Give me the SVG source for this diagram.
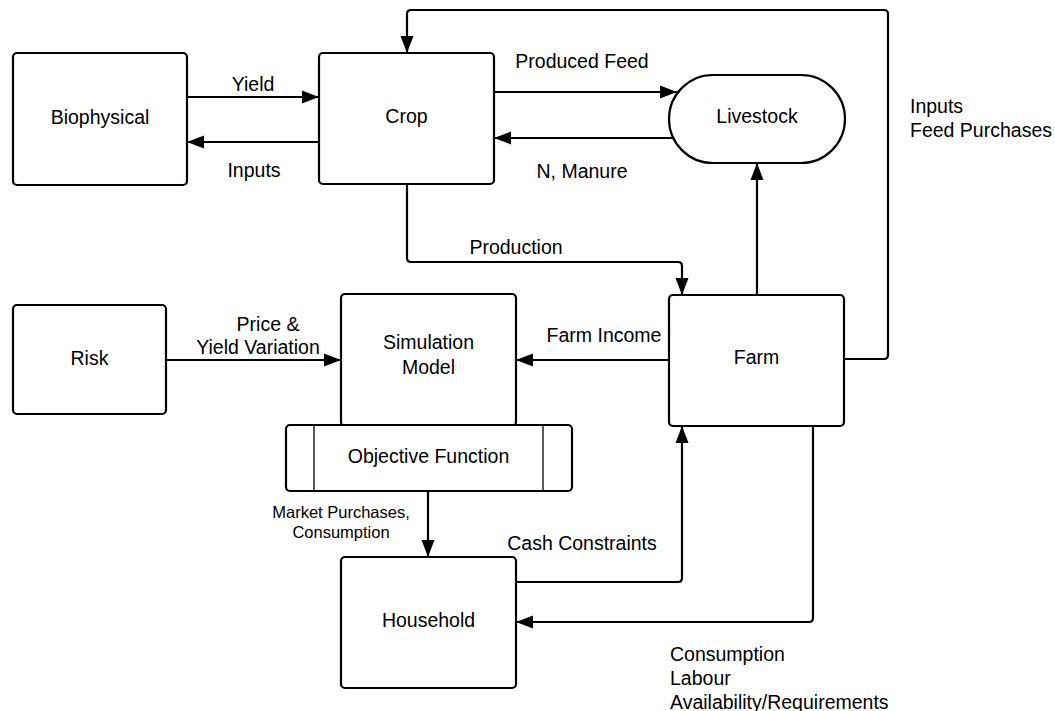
<svg xmlns="http://www.w3.org/2000/svg" width="1055" height="711" viewBox="0 0 1055 711">
<defs>
<style>
.box{fill:#fff;stroke:#000;stroke-width:2.2}
.thin{stroke:#000;stroke-width:1.3;fill:none}
.c{fill:none;stroke:#000;stroke-width:2.2;marker-end:url(#ah)}
.t{font-family:"Liberation Sans",Arial,sans-serif;font-size:19.5px;fill:#000}
.s{font-family:"Liberation Sans",Arial,sans-serif;font-size:16.5px;fill:#000}
.m{text-anchor:middle}
</style>
<marker id="ah" markerUnits="userSpaceOnUse" markerWidth="18" markerHeight="14" viewBox="0 0 18 14" refX="17" refY="7" orient="auto">
<path d="M0,0.5 L17,7 L0,13.5 Z" fill="#000"/>
</marker>
</defs>
<rect width="1055" height="711" fill="#fff"/>
<g id="connectors">
<path class="c" d="M187,97 H319"/>
<path class="c" d="M319,142 H187"/>
<path class="c" d="M494,92 H677"/>
<path class="c" d="M673,138 H494"/>
<path class="c" d="M844,359 H884 Q888,359 888,355 V14 Q888,10 884,10 H411 Q407,10 407,14 V53"/>
<path class="c" d="M757,295 V163"/>
<path class="c" d="M407,184 V258 Q407,262 411,262 H678 Q682,262 682,266 V295"/>
<path class="c" d="M166,360 H341"/>
<path class="c" d="M669,360 H516"/>
<path class="c" d="M428,491 V557"/>
<path class="c" d="M516,582 H678 Q682,582 682,578 V426"/>
<path class="c" d="M813,426 V618 Q813,622 809,622 H516"/>
<g class="t">
<text x="253" y="91" class="m">Yield</text>
<text x="254" y="177" class="m">Inputs</text>
<text x="582" y="68" class="m">Produced Feed</text>
<text x="582" y="178" class="m">N, Manure</text>
<text x="910" y="113">Inputs</text>
<text x="910" y="137">Feed Purchases</text>
<text x="516" y="254" class="m">Production</text>
<text x="268" y="331" class="m">Price &amp;</text>
<text x="258" y="354" class="m">Yield Variation</text>
<text x="604" y="342" class="m">Farm Income</text>
<text x="582" y="550" class="m">Cash Constraints</text>
<text x="670" y="661">Consumption</text>
<text x="670" y="685">Labour</text>
<text x="670" y="709">Availability/Requirements</text>
</g>
<g class="s">
<text x="341" y="518" class="m">Market Purchases,</text>
<text x="341" y="538" class="m">Consumption</text>
</g>
</g>
<g id="biophysical">
<rect class="box" x="13" y="53" width="174" height="132" rx="4"/>
<text class="t m" x="100" y="124">Biophysical</text>
</g>
<g id="crop">
<rect class="box" x="319" y="53" width="175" height="131" rx="4"/>
<text class="t m" x="406.5" y="123">Crop</text>
</g>
<g id="livestock">
<rect class="box" x="669" y="75" width="176" height="88" rx="44"/>
<text class="t m" x="757" y="123">Livestock</text>
</g>
<g id="farm">
<rect class="box" x="669" y="295" width="175" height="131" rx="4"/>
<text class="t m" x="756.5" y="364">Farm</text>
</g>
<g id="risk">
<rect class="box" x="13" y="305" width="153" height="109" rx="4"/>
<text class="t m" x="89.5" y="365">Risk</text>
</g>
<g id="simulation-model">
<rect class="box" x="341" y="294" width="175" height="132" rx="4"/>
<text class="t m" x="428.5" y="349">Simulation</text>
<text class="t m" x="428.5" y="374">Model</text>
</g>
<g id="objective-function">
<rect class="box" x="286" y="425" width="286" height="66" rx="4"/>
<line class="thin" x1="314" y1="425" x2="314" y2="491"/>
<line class="thin" x1="543" y1="425" x2="543" y2="491"/>
<text class="t m" x="428.5" y="463">Objective Function</text>
</g>
<g id="household">
<rect class="box" x="341" y="557" width="175" height="131" rx="4"/>
<text class="t m" x="428.5" y="627">Household</text>
</g>
</svg>
